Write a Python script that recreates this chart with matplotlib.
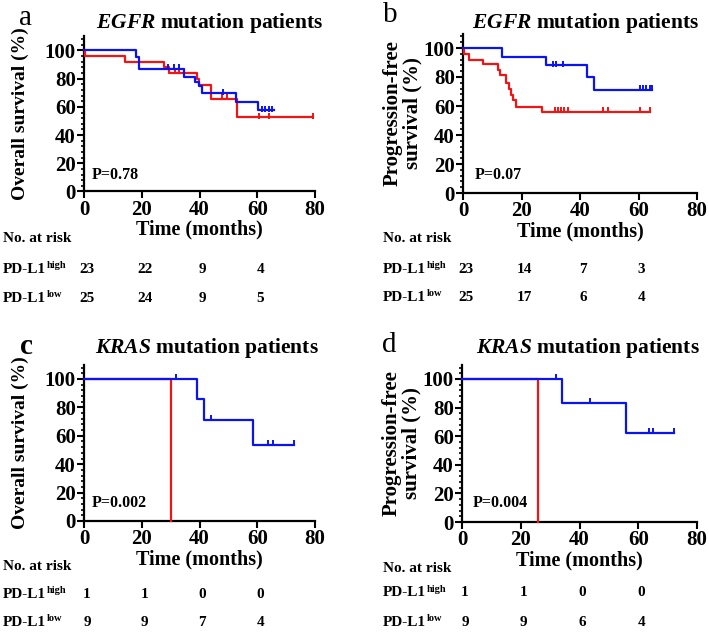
import matplotlib
matplotlib.use("Agg")
import matplotlib.pyplot as plt
import matplotlib.transforms as mtransforms
from matplotlib.ticker import MultipleLocator

plt.rcParams['font.family'] = ['Liberation Serif', 'DejaVu Serif']
plt.rcParams['font.weight'] = 'bold'
plt.rcParams['mathtext.fontset'] = 'custom'
plt.rcParams['mathtext.rm'] = 'Liberation Serif:bold'
plt.rcParams['mathtext.bf'] = 'Liberation Serif:bold'
plt.rcParams['mathtext.it'] = 'Liberation Serif:italic:bold'
plt.rcParams['mathtext.bfit'] = 'Liberation Serif:italic:bold'

BLUE = '#0a14f0'
RED = '#f01414'

# ---------------- data ----------------
# Panel a: EGFR, overall survival
a_blue_t = [0, 18.1, 19.1, 34.6, 38.6, 39.8, 40.9, 52.6, 60.4, 65.9]
a_blue_s = [100, 95.7, 87.0, 81.5, 78.0, 75.0, 69.7, 63.8, 57.5, 57.5]
a_blue_ct = [29.0, 31.0, 33.0, 48.0, 61.7, 62.8, 64.0, 65.0]
a_blue_cs = [87.0, 87.0, 87.0, 69.7, 57.5, 57.5, 57.5, 57.5]
a_red_t = [0, 0.2, 14.1, 27.7, 29.4, 39.3, 39.9, 44.1, 53.0, 79.4]
a_red_s = [100, 96.0, 92.0, 88.0, 84.0, 80.0, 75.5, 65.5, 52.5, 52.5]
a_red_ct = [31.5, 33.0, 34.5, 47.8, 49.5, 60.5, 63.9, 79.4]
a_red_cs = [84.0, 84.0, 84.0, 65.5, 65.5, 52.5, 52.5, 52.5]

# Panel b: EGFR, progression-free survival
b_blue_t = [0, 13.3, 28.5, 42.4, 44.7, 64.7]
b_blue_s = [100, 94.0, 88.0, 79.7, 71.1, 71.1]
b_blue_ct = [30.8, 31.9, 34.2, 60.4, 61.5, 62.7, 63.8, 64.7]
b_blue_cs = [88.0, 88.0, 88.0, 71.1, 71.1, 71.1, 71.1, 71.1]
b_red_t = [0, 0.3, 1.9, 6.8, 12.0, 12.8, 14.8, 15.6, 16.3, 17.0, 18.2, 27.0, 63.8]
b_red_s = [100, 96.0, 92.0, 89.0, 85.0, 81.5, 76.0, 72.0, 67.5, 64.0, 59.6, 56.0, 56.0]
b_red_ct = [31.3, 32.4, 33.5, 34.7, 35.9, 47.9, 49.6, 60.4, 63.8]
b_red_cs = [56.0] * 9

# Panel c: KRAS, overall survival
c_blue_t = [0, 39.0, 41.5, 58.4, 72.8]
c_blue_s = [100, 85.7, 71.4, 53.6, 53.6]
c_blue_ct = [32.0, 44.0, 63.8, 65.4, 72.8]
c_blue_cs = [100, 71.4, 53.6, 53.6, 53.6]
c_red_t = [0, 30.0]
c_red_s = [100, 0]

# Panel d: KRAS, progression-free survival
d_blue_t = [0, 34.1, 55.8, 72.3]
d_blue_s = [100, 83.3, 62.5, 62.5]
d_blue_ct = [31.9, 43.7, 63.8, 64.9, 72.3]
d_blue_cs = [100, 83.3, 62.5, 62.5, 62.5]
d_red_t = [0, 26.0]
d_red_s = [100, 0]

risk_times = [0, 20, 40, 60]
a_risk_high = [23, 22, 9, 4]
a_risk_low = [25, 24, 9, 5]
b_risk_high = [23, 14, 7, 3]
b_risk_low = [25, 17, 6, 4]
c_risk_high = [1, 1, 0, 0]
c_risk_low = [9, 9, 7, 4]
d_risk_high = [1, 1, 0, 0]
d_risk_low = [9, 9, 6, 4]

p_values = ["P=0.78", "P=0.07", "P=0.002", "P=0.004"]
genes = ["EGFR", "EGFR", "KRAS", "KRAS"]
panel_letters = ["a", "b", "c", "d"]
ylabels = ["Overall survival (%)", "Progression-free\nsurvival (%)",
           "Overall survival (%)", "Progression-free\nsurvival (%)"]

# ---------------- figure ----------------
W, H = 709, 632
fig = plt.figure(figsize=(W / 100, H / 100), dpi=100)


def rect(x0, x1, y0px, y110px):
    return [x0 / W, 1 - y0px / H, (x1 - x0) / W, (y0px - y110px) / H]


axes_rects = [
    rect(84, 315, 191.5, 191.5 - 1.41 * 110),
    rect(463, 697, 193, 193 - 1.45 * 110),
    rect(84, 315, 521, 521 - 1.42 * 110),
    rect(462, 697, 522, 522 - 1.43 * 110),
]

panels = [
    (a_blue_t, a_blue_s, a_blue_ct, a_blue_cs, a_red_t, a_red_s, a_red_ct, a_red_cs, a_risk_high, a_risk_low),
    (b_blue_t, b_blue_s, b_blue_ct, b_blue_cs, b_red_t, b_red_s, b_red_ct, b_red_cs, b_risk_high, b_risk_low),
    (c_blue_t, c_blue_s, c_blue_ct, c_blue_cs, c_red_t, c_red_s, [], [], c_risk_high, c_risk_low),
    (d_blue_t, d_blue_s, d_blue_ct, d_blue_cs, d_red_t, d_red_s, [], [], d_risk_high, d_risk_low),
]

title_pos = [(210, 23), (586, 23), (207, 348), (588, 348)]
letter_pos = [(26, 18), (390, 15), (26, 346), (389, 345)]
ylabel_x = [-0.238, -0.172, -0.238, -0.172]
ylabel_fs = [14, 15, 14, 15]
p_pos = [(2.5, 12), (4.0, 12.4), (2.5, 12.7), (3.7, 13.0)]
table_left = [3, 383, 3, 383]
table_rows = [(238, 269, 298), (239, 269, 297), (567, 594, 622), (568, 593, 622)]
TFS = 11

for i, (rc, data) in enumerate(zip(axes_rects, panels)):
    bt, bs, bct, bcs, rt, rs, rct, rcs, rh, rl = data
    ax = fig.add_axes(rc)
    ax.step(rt, rs, where='post', color=RED, lw=1.6, zorder=3, clip_on=False)
    if rct:
        ax.plot(rct, [v + 1.2 for v in rcs], ls='none', marker='|', ms=4.5,
                mew=1.4, color=RED, zorder=3, clip_on=False)
    ax.step(bt, bs, where='post', color=BLUE, lw=1.6, zorder=4, clip_on=False)
    ax.plot(bct, [v + 1.2 for v in bcs], ls='none', marker='|', ms=4.5,
            mew=1.4, color=BLUE, zorder=4, clip_on=False)

    ax.set_xlim(0, 80)
    ax.set_ylim(0, 110)
    ax.spines['top'].set_visible(False)
    ax.spines['right'].set_visible(False)
    for s in ('left', 'bottom'):
        ax.spines[s].set_linewidth(1.6)
    ax.set_xticks([0, 20, 40, 60, 80])
    ax.set_yticks([0, 20, 40, 60, 80, 100])
    ax.yaxis.set_minor_locator(MultipleLocator(4))
    ax.tick_params(axis='both', which='major', direction='out', length=5,
                   width=1.5, labelsize=15, pad=1)
    ax.tick_params(axis='y', which='minor', direction='out', length=2.5, width=1.2)
    for lab in ax.get_xticklabels() + ax.get_yticklabels():
        lab.set_fontweight('bold')
    ax.set_xlabel("Time (months)", fontsize=14.5, fontweight='bold', labelpad=0)
    ax.set_ylabel(ylabels[i], fontsize=ylabel_fs[i], fontweight='bold', linespacing=1.0)
    ax.yaxis.set_label_coords(ylabel_x[i], 0.5)
    ax.text(p_pos[i][0], p_pos[i][1], p_values[i], fontsize=11.5,
            fontweight='bold', ha='left', va='center')

    tx, ty = title_pos[i]
    fig.text(tx / W, 1 - ty / H, r"$\mathbfit{" + genes[i] + r"}$ mutation patients",
             fontsize=15.5, fontweight='bold', ha='center', va='center')
    lx, ly = letter_pos[i]
    fig.text(lx / W, 1 - ly / H, panel_letters[i], fontsize=21,
             fontweight='bold' if i == 2 else 'normal', ha='center', va='center')

    # number at risk table
    y0, y1, y2 = table_rows[i]
    xl = table_left[i] / W
    fig.text(xl, 1 - y0 / H, "No. at risk", fontsize=TFS, fontweight='bold',
             ha='left', va='center')
    for yy, sup in ((y1, "high"), (y2, "low")):
        base = fig.text(xl, 1 - yy / H, "PD-L1", fontsize=TFS,
                        fontweight='bold', ha='left', va='center')
        fig.add_artist(matplotlib.text.Annotation(
            sup, xy=(1.0, 0.45), xycoords=base, xytext=(0.5, 0),
            textcoords='offset points', fontsize=7.5, fontweight='bold',
            ha='left', va='bottom'))
    trans = mtransforms.blended_transform_factory(ax.transData, fig.transFigure)
    for t, nh, nl in zip(risk_times, rh, rl):
        ax.text(t + 1.0, 1 - y1 / H, str(nh), transform=trans, fontsize=TFS,
                fontweight='bold', ha='center', va='center', clip_on=False)
        ax.text(t + 1.0, 1 - y2 / H, str(nl), transform=trans, fontsize=TFS,
                fontweight='bold', ha='center', va='center', clip_on=False)

fig.savefig("out.png", dpi=100)
